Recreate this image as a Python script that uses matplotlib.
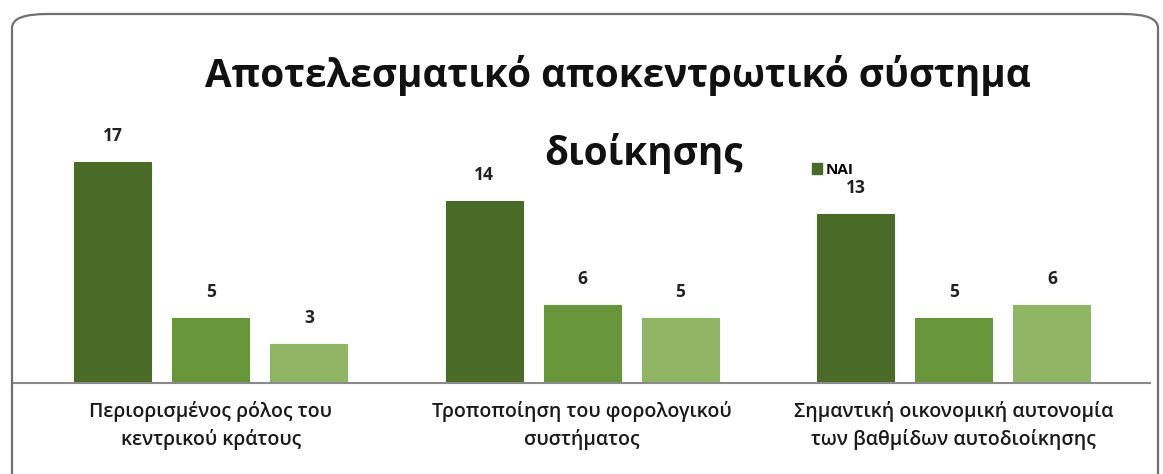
import matplotlib
matplotlib.use("Agg")
import matplotlib.pyplot as plt
from matplotlib.patches import FancyBboxPatch, Patch
import numpy as np

plt.rcParams['font.family'] = ['Open Sans', 'DejaVu Sans']

title = "Αποτελεσματικό αποκεντρωτικό σύστημα\nδιοίκησης"
categories = ["Περιορισμένος ρόλος του\nκεντρικού κράτους",
              "Τροποποίηση του φορολογικού\nσυστήματος",
              "Σημαντική οικονομική αυτονομία\nτων βαθμίδων αυτοδιοίκησης"]
series_names = ["NAI", "OXI", "ΔΕΝ ΓΝΩΡΙΖΩ"]
values_nai = [17, 14, 13]
values_oxi = [5, 6, 5]
values_dk = [3, 5, 6]
colors = ["#4a6a27", "#66953a", "#8fb565"]

W, H = 1163, 474
fig = plt.figure(figsize=(W / 100, H / 100), dpi=100)
fig.patch.set_facecolor("white")

# rounded frame
frame = FancyBboxPatch((12 / W, -0.2), (1158 - 12) / W, (474 - 14) / H + 0.2,
                       boxstyle="round,pad=0,rounding_size=0.03",
                       transform=fig.transFigure, facecolor="none",
                       edgecolor="#707070", linewidth=1.6, mutation_aspect=H / W * 2.4)
fig.patches.append(frame)

ax = fig.add_axes([12 / W, (474 - 383) / H, (1150 - 12) / W, (383 - 30) / H])
ax.set_facecolor("none")
x = np.arange(len(categories))
width = 0.207
offset = 0.264
all_vals = [values_nai, values_oxi, values_dk]
for i, (vals, c, name) in enumerate(zip(all_vals, colors, series_names)):
    pos = x + (i - 1) * offset
    ax.bar(pos, vals, width=width, color=c, edgecolor=c, linewidth=0.8, label=name)
    for p, v in zip(pos, vals):
        ax.text(p, v + 1.3, str(v), ha="center", va="bottom", fontsize=12.5,
                fontweight="bold", color="#222222")

ax.set_xlim(-0.535, 2.528)
ax.set_ylim(0, 27.15)
ax.set_yticks([])
ax.set_xticks(x)
ax.set_xticklabels(categories, fontsize=14, fontweight="semibold", color="#1a1a1a",
                   linespacing=1.45)
ax.tick_params(axis="x", length=0, pad=13)
for s in ["top", "right", "left"]:
    ax.spines[s].set_visible(False)
ax.spines["bottom"].set_color("#8a8a8a")
ax.spines["bottom"].set_linewidth(1.5)

fig.text(618 / W, 1 - 75 / H, "Αποτελεσματικό αποκεντρωτικό σύστημα", ha="center", va="center",
         fontsize=27.8, fontweight="bold", color="#111111")
fig.text(644 / W, 1 - 153 / H, "διοίκησης", ha="center", va="center",
         fontsize=27.8, fontweight="bold", color="#111111")

handles = [Patch(facecolor=colors[0], edgecolor=colors[0])]
fig.legend(handles, ["NAI"], loc="center left", bbox_to_anchor=(798 / W, 1 - 170 / H),
           frameon=False, handlelength=0.7, handleheight=0.7, handletextpad=0.2,
           prop={"size": 11, "weight": "bold"})

fig.savefig("out.png", dpi=100, facecolor="white")
